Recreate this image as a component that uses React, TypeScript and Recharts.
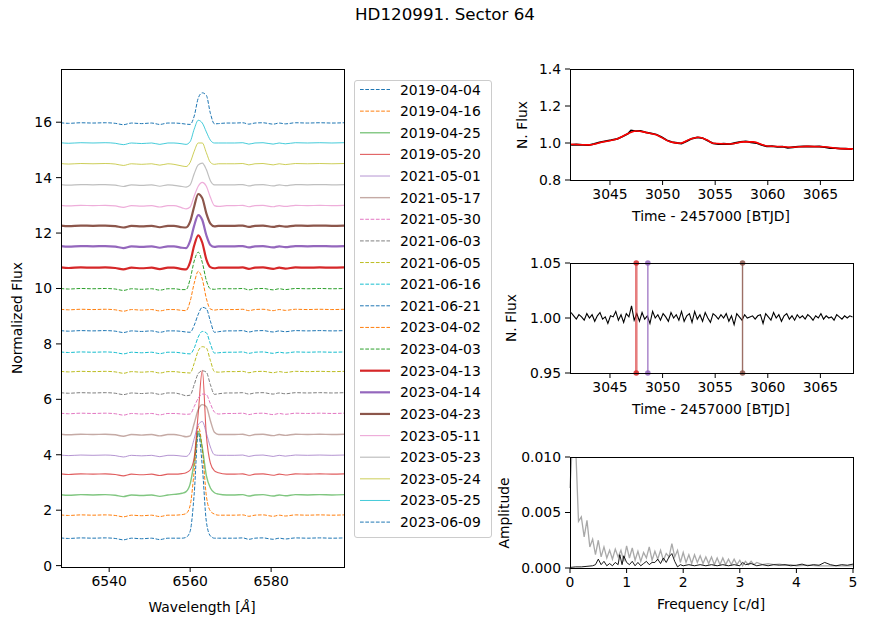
import { LineChart, Line, XAxis, YAxis } from 'recharts';

const FONT = '"DejaVu Sans", sans-serif';

// ---- spectra (left panel) ----
const DATES = [
  '2019-04-04', '2019-04-16', '2019-04-25', '2019-05-20', '2021-05-01', '2021-05-17', '2021-05-30',
  '2021-06-03', '2021-06-05', '2021-06-16', '2021-06-21', '2023-04-02', '2023-04-03', '2023-04-13',
  '2023-04-14', '2023-04-23', '2023-05-11', '2023-05-23', '2023-05-24', '2023-05-25', '2023-06-09',
];

// continuum level of each spectrum after vertical shift
const BASE = [0.99, 1.82, 2.55, 3.3, 3.98, 4.73, 5.49, 6.23, 7.0, 7.7, 8.47, 9.24, 9.99, 10.75, 11.52, 12.26, 12.99, 13.74, 14.5, 15.25, 15.97];

// shared continuum wiggles (telluric / interstellar features)
const CONT_WAVE_L = [6528, 6530, 6533, 6536, 6539, 6541.5, 6543.5, 6545.5, 6548, 6550.5, 6552.5, 6554.5];
const CONT_L = [0.01, -0.01, 0.01, 0.0, 0.01, -0.01, -0.06, 0.0, -0.02, 0.0, -0.05, 0.0];
const CONT_WAVE_R = [6571, 6573, 6574.5, 6576, 6578, 6580.5, 6582, 6583.5, 6586, 6589, 6592, 6595, 6598];
const CONT_R = [0.0, 0.01, -0.04, 0.0, 0.01, -0.04, 0.0, -0.03, 0.01, 0.0, 0.01, 0.0, 0.01];

// H-alpha profile of each spectrum (flux above continuum)
const LINE_WAVE = [6556, 6558, 6559, 6560, 6561, 6562, 6563, 6564, 6565, 6566, 6567, 6569];
const LINE_FLUX = [
  [0, 0, 0.03, 0.25, 1.6, 3.8, 2.6, 0.6, 0.08, 0, 0, 0],
  [0, 0.02, 0.06, 0.35, 1.6, 3.2, 2.4, 0.7, 0.15, 0.04, 0, 0],
  [0.02, 0.06, 0.12, 0.4, 1.2, 2.3, 1.7, 0.7, 0.25, 0.08, 0.03, 0],
  [0, 0.02, 0.05, 0.15, 0.6, 2.2, 3.75, 1.4, 0.4, 0.12, 0.05, 0],
  [0, -0.03, -0.04, 0.1, 0.6, 1.1, 1.22, 0.8, 0.3, 0.02, 0, 0],
  [0, -0.05, -0.08, -0.05, 0.4, 0.9, 1.08, 1.0, 0.5, 0.08, 0, 0],
  [0, -0.02, -0.03, -0.02, 0.25, 0.55, 0.7, 0.68, 0.35, 0.05, -0.02, 0],
  [0, -0.06, -0.1, -0.08, 0.3, 0.7, 0.8, 0.75, 0.3, -0.05, -0.03, 0],
  [0, -0.03, -0.04, -0.05, 0.3, 0.75, 0.9, 0.85, 0.4, 0.0, -0.02, 0],
  [0, -0.03, -0.05, -0.06, 0.15, 0.55, 0.75, 0.7, 0.3, -0.03, -0.02, 0],
  [0, -0.02, -0.04, -0.05, 0.2, 0.6, 0.85, 0.8, 0.35, -0.05, -0.03, 0],
  [0, -0.03, -0.04, 0.3, 0.95, 1.38, 1.1, 0.4, 0.02, -0.02, 0, 0],
  [0, -0.03, -0.03, 0.35, 1.0, 1.32, 0.95, 0.3, 0.0, -0.02, 0, 0],
  [0, -0.05, -0.06, 0.2, 0.8, 1.17, 0.9, 0.3, 0.02, -0.02, 0, 0],
  [0, -0.05, -0.06, 0.2, 0.75, 1.13, 0.95, 0.4, 0.05, -0.02, 0, 0],
  [0, -0.05, -0.06, 0.15, 0.7, 1.15, 1.0, 0.45, 0.08, -0.02, 0, 0],
  [0, -0.08, -0.12, -0.05, 0.35, 0.7, 0.84, 0.7, 0.3, 0.0, -0.03, 0],
  [-0.02, -0.06, -0.08, 0.0, 0.4, 0.72, 0.78, 0.55, 0.15, 0.0, 0.0, 0],
  [-0.02, -0.08, -0.1, 0.05, 0.45, 0.75, 0.75, 0.4, 0.05, -0.02, 0, 0],
  [0, -0.03, -0.05, 0.05, 0.5, 0.82, 0.72, 0.4, 0.1, 0.0, 0, 0],
  [0, -0.02, -0.04, -0.05, 0.25, 0.9, 1.09, 1.0, 0.35, -0.03, -0.02, 0],
];

const WAVE_TICKS = [6540, 6560, 6580];
const FLUX_TICKS = [0, 2, 4, 6, 8, 10, 12, 14, 16];

// ---- TESS light curve ----
const LC_MODEL_T = [3041.2, 3043.1, 3044.4, 3045.6, 3046.9, 3047.5, 3048.5, 3049.4, 3050.7, 3051.7, 3052.6, 3053.4, 3054.2, 3054.8, 3056.4, 3057.7, 3058.6, 3059.9, 3061.5, 3062.4, 3063.7, 3065.3, 3066.6, 3068.1];
const LC_MODEL_F = [0.993, 0.99, 1.007, 1.02, 1.056, 1.065, 1.056, 1.044, 1.007, 0.999, 1.02, 1.031, 1.017, 0.999, 0.995, 1.006, 1.006, 0.984, 0.98, 0.977, 0.982, 0.98, 0.971, 0.968];
const LC_OBS_T = [3041.3, 3041.8, 3042.4, 3043.0, 3043.5, 3044.0, 3044.6, 3045.1, 3045.7, 3046.2, 3046.7, 3047.0, 3047.4, 3047.9, 3048.4, 3048.9, 3049.4, 3049.9, 3050.4, 3050.9, 3051.4, 3051.8, 3052.3, 3052.8, 3053.3, 3053.8, 3054.3, 3054.8, 3055.3, 3055.8, 3056.4, 3056.9, 3057.4, 3057.9, 3058.4, 3058.9, 3059.4, 3059.9, 3060.4, 3060.9, 3061.4, 3061.9, 3062.4, 3062.9, 3063.4, 3063.9, 3064.4, 3064.9, 3065.4, 3065.9, 3066.4, 3066.9, 3067.4, 3068.0];
const LC_OBS_F = [0.99, 0.992, 0.99, 0.989, 0.995, 1.003, 1.01, 1.015, 1.022, 1.035, 1.05, 1.068, 1.064, 1.066, 1.058, 1.052, 1.046, 1.032, 1.015, 1.005, 1.0, 0.997, 1.01, 1.024, 1.03, 1.027, 1.012, 0.998, 0.994, 0.996, 0.994, 1.0, 1.006, 1.009, 1.004, 1.0, 0.99, 0.982, 0.983, 0.979, 0.98, 0.974, 0.977, 0.98, 0.981, 0.982, 0.98, 0.981, 0.978, 0.973, 0.972, 0.97, 0.969, 0.967];

// residuals after removing the trend, parts per thousand, 6 h cadence from 3041.3
const RES_START = 3041.3;
const RES_STEP = 0.25;
const RES_PPT = [
  5, 2, -1, 3, 1, -2, 4, 0, 3, -3, 2, 5, -1, 1, -5, 2, 1, 6, -2, 3, -4, 4, 1, 11, -2, 4, -3, 5, -1, 2,
  -5, 6, 0, 3, -2, 4, 1, -3, 5, 0, 3, -2, 6, -3, 2, 4, -4, 6, -1, 3, -3, 5, 0, -4, 4, 2, -1, 3, 0, 4,
  -3, 2, -6, 4, 1, -2, 3, 0, 1, 2, -1, 2, 3, -5, 4, 1, -2, 5, 0, 3, -3, 2, 4, -1, 2, -2, 3, 0, 2, -1,
  3, 1, -2, 2, 0, 4, -1, 2, 0, 1, -2, 3, 1, -1, 2, 0, 2, 1,
];

// epochs of the simultaneous spectra
const MARK_T = [3047.5, 3048.6, 3057.6];
const MARK_COLOR = ['#d62728', '#9467bd', '#8c564b'];

const TOP_TICKS = [3041.2, 3050.2, 3059.2, 3068.1];
const TOP_LABELS = ['06 Apr 23', '15 Apr 23', '24 Apr 23', '03 May 23'];
const TIME_TICKS = [3045, 3050, 3055, 3060, 3065];

// ---- periodograms (amplitude x 1e-3) ----
const FREQ_RAW = [0, 0.05, 0.1, 0.15, 0.2, 0.25, 0.3, 0.35, 0.4, 0.45, 0.5, 0.55, 0.6, 0.65, 0.7, 0.75, 0.8, 0.85, 0.9, 0.95, 1.0, 1.05, 1.1, 1.15, 1.2, 1.25, 1.3, 1.35, 1.4, 1.45, 1.5, 1.55, 1.6, 1.65, 1.7, 1.75, 1.8, 1.85, 1.9, 1.95, 2.0, 2.05, 2.1, 2.15, 2.2, 2.25, 2.3, 2.35, 2.4, 2.45, 2.5, 2.55, 2.6, 2.65, 2.7, 2.75, 2.8, 2.85, 2.9, 2.95, 3.0, 3.05, 3.1, 3.15, 3.2, 3.25, 3.3, 3.4, 3.5, 3.6, 3.7, 3.8, 3.9, 4.0, 4.2, 4.4, 4.6, 4.8, 5.0];
const AMP_RAW = [7.2, 12, 11, 4.2, 4.6, 2.8, 4.3, 1.9, 2.6, 1.2, 2.5, 1.0, 1.9, 0.9, 1.6, 0.8, 1.7, 1.0, 1.6, 0.6, 2.0, 0.9, 1.8, 0.7, 1.5, 0.6, 1.4, 0.9, 1.9, 0.7, 1.5, 0.8, 1.6, 0.7, 1.3, 1.0, 2.2, 1.0, 1.6, 0.5, 1.4, 0.5, 1.2, 0.4, 1.2, 0.5, 1.1, 0.4, 1.0, 0.4, 1.0, 0.3, 0.9, 0.3, 0.9, 0.3, 0.8, 0.3, 0.8, 0.3, 0.7, 0.2, 0.6, 0.3, 0.6, 0.3, 0.5, 0.3, 0.4, 0.3, 0.35, 0.25, 0.3, 0.2, 0.25, 0.2, 0.2, 0.2, 0.2];
const FREQ_RES = [0, 0.1, 0.2, 0.3, 0.4, 0.45, 0.5, 0.55, 0.6, 0.65, 0.7, 0.75, 0.8, 0.85, 0.88, 0.92, 0.95, 1.0, 1.05, 1.1, 1.15, 1.2, 1.25, 1.3, 1.35, 1.4, 1.45, 1.5, 1.55, 1.6, 1.65, 1.7, 1.75, 1.8, 1.85, 1.9, 1.95, 2.0, 2.1, 2.2, 2.3, 2.4, 2.5, 2.6, 2.7, 2.8, 2.9, 3.0, 3.05, 3.1, 3.2, 3.3, 3.4, 3.5, 3.6, 3.7, 3.8, 3.9, 4.0, 4.1, 4.2, 4.3, 4.4, 4.5, 4.6, 4.7, 4.8, 4.9, 5.0];
const AMP_RES = [0.05, 0.1, 0.1, 0.15, 0.2, 0.3, 0.8, 0.3, 0.6, 0.2, 0.4, 0.2, 0.5, 0.3, 1.2, 0.3, 1.1, 0.5, 0.3, 0.6, 0.2, 0.5, 0.2, 0.4, 0.6, 0.3, 0.5, 0.5, 0.8, 0.4, 0.9, 0.5, 1.0, 1.3, 0.6, 0.1, 0.3, 0.2, 0.3, 0.2, 0.3, 0.2, 0.3, 0.2, 0.3, 0.2, 0.3, 0.2, 0.5, 0.3, 0.4, 0.2, 0.3, 0.2, 0.3, 0.25, 0.3, 0.2, 0.25, 0.35, 0.2, 0.3, 0.25, 0.5, 0.3, 0.2, 0.3, 0.25, 0.35];
const FREQ_TICKS = [0, 1, 2, 3, 4, 5];

// ---- line styles, in legend order ----
const C = ['#1f77b4', '#ff7f0e', '#2ca02c', '#d62728', '#9467bd', '#8c564b', '#e377c2', '#7f7f7f', '#bcbd22', '#17becf'];
const SPEC_STYLE = [
  { c: C[0], dash: true, w: 1, o: 1 },
  { c: C[1], dash: true, w: 1, o: 1 },
  { c: C[2], dash: false, w: 1.4, o: 0.6 },
  { c: C[3], dash: false, w: 1.1, o: 0.75 },
  { c: C[4], dash: false, w: 1, o: 0.7 },
  { c: C[5], dash: false, w: 1.4, o: 0.5 },
  { c: C[6], dash: true, w: 1, o: 1 },
  { c: C[7], dash: true, w: 1, o: 1 },
  { c: C[8], dash: true, w: 1, o: 1 },
  { c: C[9], dash: true, w: 1, o: 1 },
  { c: C[0], dash: true, w: 1, o: 1 },
  { c: C[1], dash: true, w: 1, o: 1 },
  { c: C[2], dash: true, w: 1, o: 1 },
  { c: C[3], dash: false, w: 2.2, o: 1 },
  { c: C[4], dash: false, w: 2.2, o: 1 },
  { c: C[5], dash: false, w: 2.2, o: 1 },
  { c: C[6], dash: false, w: 1.2, o: 0.6 },
  { c: C[7], dash: false, w: 1.2, o: 0.5 },
  { c: C[8], dash: false, w: 1, o: 0.75 },
  { c: C[9], dash: false, w: 1, o: 0.8 },
  { c: C[0], dash: true, w: 1, o: 1 },
];

const tickStyle = { fill: '#000', fontSize: 13.9, fontFamily: FONT };
const smallTick = { fill: '#000', fontSize: 11, fontFamily: FONT };

type Box = { x: number; y: number; w: number; h: number };
const LEFT: Box = { x: 61, y: 69, w: 283, h: 498 };
const PA: Box = { x: 570, y: 69, w: 283, h: 111 };
const PB: Box = { x: 570, y: 263, w: 283, h: 110 };
const PC: Box = { x: 570, y: 457, w: 283, h: 111 };

function Frame({ b }: { b: Box }) {
  return (
    <div
      style={{
        position: 'absolute', left: b.x, top: b.y, width: b.w + 1, height: b.h + 1,
        border: '1.1px solid #000', boxSizing: 'border-box', pointerEvents: 'none',
      }}
    />
  );
}

function Txt({ x, y, text, size = 13.9, rotate = false, children }: any) {
  return (
    <div
      style={{
        position: 'absolute', left: x, top: y, fontSize: size, fontFamily: FONT, color: '#000',
        whiteSpace: 'nowrap', transform: `translate(-50%, -50%)${rotate ? ' rotate(-90deg)' : ''}`,
        lineHeight: 1,
      }}
    >
      {text}
      {children}
    </div>
  );
}

// place a chart so that its plot area lands on box b
function place(b: Box, ml: number, mr: number, mt: number, mb: number) {
  return {
    style: { position: 'absolute' as const, left: b.x - ml, top: b.y - mt },
    width: ml + b.w + mr,
    height: mt + b.h + mb,
  };
}

function SpectraPanel() {
  const series = DATES.map((_, i) => [
    ...CONT_WAVE_L.map((w, j) => ({ w, f: BASE[i] + CONT_L[j] })),
    ...LINE_WAVE.map((w, j) => ({ w, f: BASE[i] + LINE_FLUX[i][j] })),
    ...CONT_WAVE_R.map((w, j) => ({ w, f: BASE[i] + CONT_R[j] })),
  ]);
  const p = place(LEFT, 61, 6, 10, 45);
  return (
    <div style={p.style}>
      <LineChart width={p.width} height={p.height} margin={{ top: 10, right: 6, bottom: 0, left: 0 }}>
        <XAxis
          dataKey="w" type="number" domain={[6528.1, 6598]} allowDataOverflow ticks={WAVE_TICKS}
          interval={0} height={45} tick={tickStyle} tickSize={5} tickMargin={4}
          axisLine={false} tickLine={{ stroke: '#000' }}
        />
        <YAxis
          type="number" domain={[-0.05, 17.92]} allowDataOverflow ticks={FLUX_TICKS} interval={0}
          width={61} tick={tickStyle} tickSize={5} tickMargin={4} axisLine={false} tickLine={{ stroke: '#000' }}
        />
        {series.map((d, i) => (
          <Line
            key={DATES[i]} data={d} dataKey="f" type="monotone" dot={false} activeDot={false}
            stroke={SPEC_STYLE[i].c} strokeWidth={SPEC_STYLE[i].w} strokeOpacity={SPEC_STYLE[i].o}
            strokeDasharray={SPEC_STYLE[i].dash ? '3.7 1.6' : undefined} isAnimationActive={false}
          />
        ))}
      </LineChart>
    </div>
  );
}

function Legend() {
  const rowH = 21.63;
  return (
    <div
      style={{
        position: 'absolute', left: 354, top: 80, width: 138, height: 458, boxSizing: 'border-box',
        border: '1px solid #cccccc', borderRadius: 3, background: 'rgba(255,255,255,0.8)',
      }}
    >
      <svg width={136} height={456} style={{ position: 'absolute', left: 0, top: 0 }}>
        {DATES.map((d, i) => {
          const y = 8.5 + i * rowH;
          const s = SPEC_STYLE[i];
          return (
            <g key={d}>
              <line
                x1={5} x2={35} y1={y} y2={y} stroke={s.c} strokeWidth={s.w} strokeOpacity={s.o}
                strokeDasharray={s.dash ? '3.7 1.6' : undefined}
              />
              <text x={45} y={y} dominantBaseline="central" fontSize={13.9} fontFamily={FONT} fill="#000">
                {d}
              </text>
            </g>
          );
        })}
      </svg>
    </div>
  );
}

const topLabel = (v: number) => {
  const i = TOP_TICKS.findIndex((t) => Math.abs(t - v) < 1e-6);
  return i >= 0 ? TOP_LABELS[i] : '';
};

function TimeAxes() {
  return (
    <>
      <XAxis
        xAxisId="top" orientation="top" type="number" domain={[3041.2, 3068.1]} allowDataOverflow
        ticks={TOP_TICKS} interval={0} tickFormatter={topLabel} height={25} tick={smallTick}
        tickSize={5} tickMargin={2} axisLine={false} tickLine={{ stroke: '#000' }}
      />
      <XAxis
        dataKey="t" type="number" domain={[3041.2, 3068.1]} allowDataOverflow ticks={TIME_TICKS}
        interval={0} height={30} tick={tickStyle} tickSize={5} tickMargin={4}
        axisLine={false} tickLine={{ stroke: '#000' }}
      />
    </>
  );
}

function LightCurvePanel() {
  const obs = LC_OBS_T.map((t, i) => ({ t, v: LC_OBS_F[i] }));
  const model = LC_MODEL_T.map((t, i) => ({ t, v: LC_MODEL_F[i] }));
  const p = place(PA, 80, 32, 40, 30);
  return (
    <div style={p.style}>
      <LineChart width={p.width} height={p.height} margin={{ top: 15, right: 32, bottom: 0, left: 0 }}>
        {TimeAxes()}
        <YAxis
          type="number" domain={[0.8, 1.4]} ticks={[0.8, 1.0, 1.2, 1.4]} interval={0}
          tickFormatter={(v: number) => v.toFixed(1)} width={80} tick={tickStyle} tickSize={5}
          tickMargin={4} axisLine={false} tickLine={{ stroke: '#000' }}
        />
        <Line data={obs} dataKey="v" type="linear" stroke="#000" strokeWidth={1.8} dot={false} activeDot={false} isAnimationActive={false} />
        <Line data={model} dataKey="v" type="monotone" stroke="#ff0000" strokeWidth={1.6} dot={false} activeDot={false} isAnimationActive={false} />
      </LineChart>
    </div>
  );
}

function ResidualPanel() {
  const res = RES_PPT.map((r, i) => ({ t: RES_START + i * RES_STEP, v: 1 + r / 1000 }));
  const marks = MARK_T.map((t) => [{ t, v: 0.95 }, { t, v: 1.05 }]);
  const p = place(PB, 80, 32, 40, 30);
  return (
    <div style={p.style}>
      <LineChart width={p.width} height={p.height} margin={{ top: 15, right: 32, bottom: 0, left: 0 }}>
        {TimeAxes()}
        <YAxis
          type="number" domain={[0.95, 1.05]} ticks={[0.95, 1.0, 1.05]} interval={0}
          tickFormatter={(v: number) => v.toFixed(2)} width={80} tick={tickStyle} tickSize={5}
          tickMargin={4} axisLine={false} tickLine={{ stroke: '#000' }}
        />
        <Line data={res} dataKey="v" type="linear" stroke="#000" strokeWidth={1.1} dot={false} activeDot={false} isAnimationActive={false} />
        {marks.map((d, i) => (
          <Line
            key={i} data={d} dataKey="v" type="linear" stroke={MARK_COLOR[i]} strokeWidth={i === 0 ? 2.6 : 1.4}
            strokeOpacity={i === 0 ? 0.6 : 0.85}
            dot={{ r: 2.8, fill: MARK_COLOR[i], stroke: 'none', fillOpacity: 0.85 }} activeDot={false}
            isAnimationActive={false}
          />
        ))}
      </LineChart>
    </div>
  );
}

function PeriodogramPanel() {
  const raw = FREQ_RAW.map((f, i) => ({ f, a: AMP_RAW[i] / 1000 }));
  const resid = FREQ_RES.map((f, i) => ({ f, a: AMP_RES[i] / 1000 }));
  const p = place(PC, 80, 32, 10, 30);
  return (
    <div style={p.style}>
      <LineChart width={p.width} height={p.height} margin={{ top: 10, right: 32, bottom: 0, left: 0 }}>
        <XAxis
          dataKey="f" type="number" domain={[0, 5]} ticks={FREQ_TICKS} interval={0} height={30}
          tick={tickStyle} tickSize={5} tickMargin={4} axisLine={false} tickLine={{ stroke: '#000' }}
        />
        <YAxis
          type="number" domain={[0, 0.01]} allowDataOverflow ticks={[0, 0.005, 0.01]} interval={0}
          tickFormatter={(v: number) => v.toFixed(3)} width={80} tick={tickStyle} tickSize={5}
          tickMargin={4} axisLine={false} tickLine={{ stroke: '#000' }}
        />
        <Line data={raw} dataKey="a" type="linear" stroke="#a9a9a9" strokeWidth={1.3} dot={false} activeDot={false} isAnimationActive={false} />
        <Line data={resid} dataKey="a" type="linear" stroke="#000" strokeWidth={0.9} dot={false} activeDot={false} isAnimationActive={false} />
      </LineChart>
    </div>
  );
}

export default function App() {
  return (
    <div style={{ position: 'absolute', left: 0, top: 0, width: 885, height: 620, background: '#fff', fontFamily: FONT, overflow: 'hidden' }}>
      <Txt x={445} y={14} size={16.7} text="HD120991. Sector 64" />
      <SpectraPanel />
      <Frame b={LEFT} />
      <Legend />
      <Txt x={202} y={608} text="Wavelength [">
        <span style={{ fontStyle: 'italic' }}>Å</span>]
      </Txt>
      <Txt x={18} y={318} rotate text="Normalized Flux" />

      <LightCurvePanel />
      <Frame b={PA} />
      <Txt x={711} y={217} text="Time - 2457000 [BTJD]" />
      <Txt x={523} y={125} rotate text="N. Flux" />

      <ResidualPanel />
      <Frame b={PB} />
      <Txt x={711} y={410} text="Time - 2457000 [BTJD]" />
      <Txt x={512} y={318} rotate text="N. Flux" />

      <PeriodogramPanel />
      <Frame b={PC} />
      <Txt x={711} y={605} text="Frequency [c/d]" />
      <Txt x={505} y={513} rotate text="Amplitude" />
    </div>
  );
}
